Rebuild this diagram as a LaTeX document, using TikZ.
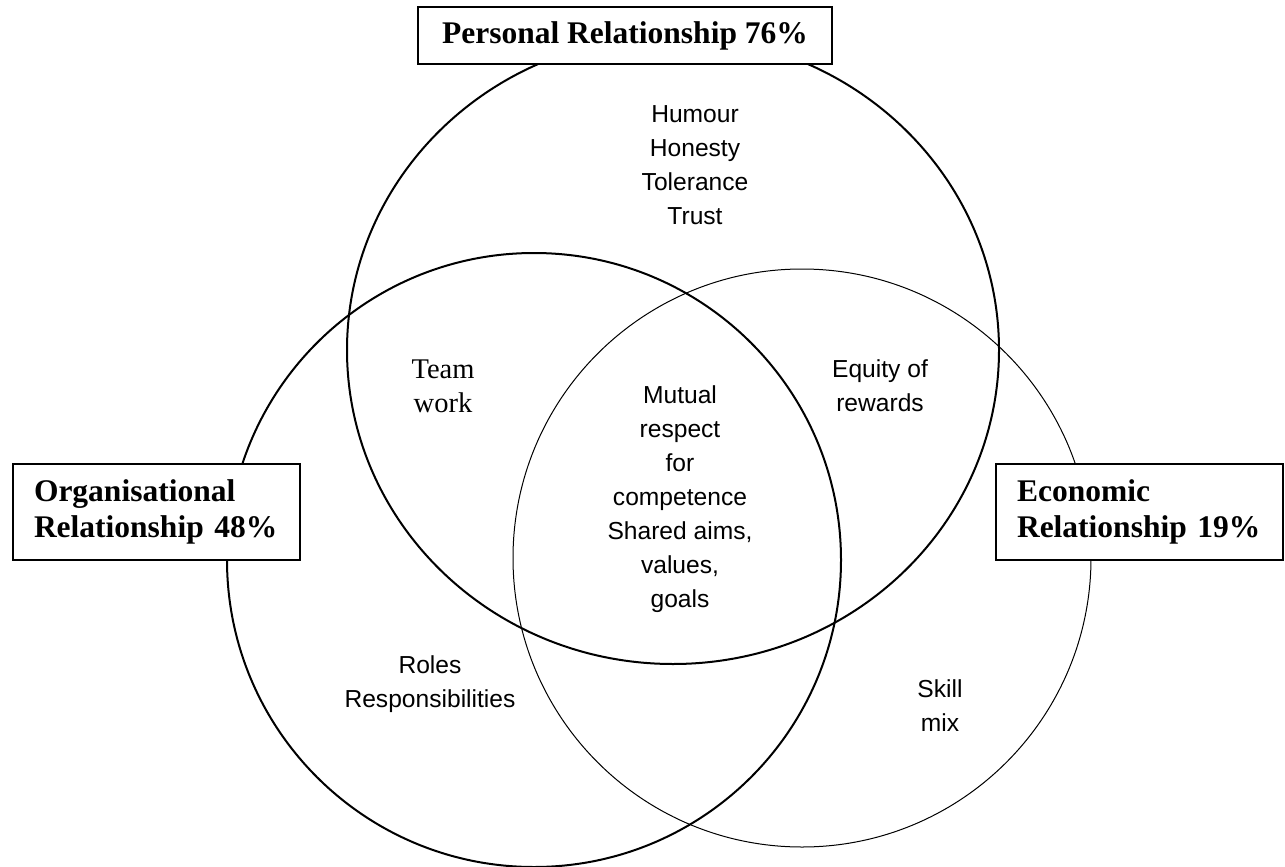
\documentclass[tikz,border=0pt]{standalone}
\usepackage{fontspec}
\setmainfont{Liberation Serif}
\newfontfamily\arialfont{Liberation Sans}
\tikzset{
	titlebox/.style={draw,line width=2pt,fill=white,inner ysep=0pt,font=\bfseries\fontsize{31.5}{36}\selectfont},
	sidebox/.style={titlebox,anchor=north west,align=left,minimum width=287pt,minimum height=96pt,inner xsep=21pt,text width=245pt},
	lbl/.style={align=center,font=\arialfont\fontsize{24.6}{34}\selectfont},
	thickring/.style={line width=2pt},
	thinring/.style={line width=1pt}
}

\begin{document}
\begin{tikzpicture}[x=1pt,y=-1pt]
			\useasboundingbox (0,0) rectangle (1285,867);
			\draw[thickring] (673,350) ellipse [x radius=326pt, y radius=314pt];
			\draw[thickring] (534,560) circle [radius=307pt];
			\draw[thinring] (802,558) circle [radius=289pt];
			\node (pers) [titlebox,minimum width=414pt,minimum height=57pt] at (625,35.5) {Personal Relationship 76\%};
			\node (org) [sidebox] at (12,463) {Organisational\\Relationship 48\%};
			\node (eco) [sidebox] at (995,463) {Economic\\Relationship 19\%};
			\node (pers-only) [lbl] at (695,165) {Humour\\Honesty\\Tolerance\\Trust};
			\node (teamwork) [align=center,font=\fontsize{28.5}{34}\selectfont] at (443,386.5) {Team\\work};
			\node (equity) [lbl] at (880,386) {Equity of\\rewards};
			\node (core) [lbl] at (680,499) {Mutual\\respect\\for\\competence\\Shared aims,\\values,\\goals};
			\node (org-only) [lbl] at (430,684) {Roles\\Responsibilities};
			\node (eco-only) [lbl] at (940,706) {Skill\\mix};
		\end{tikzpicture}
\end{document}
